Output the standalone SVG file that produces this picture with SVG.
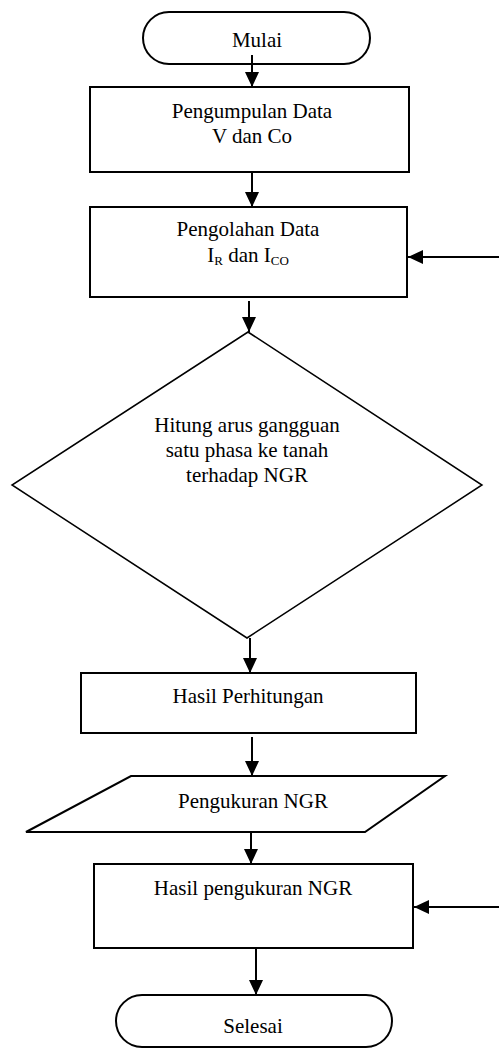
<svg xmlns="http://www.w3.org/2000/svg" width="499" height="1054" viewBox="0 0 499 1054">
<style>
.s{fill:#fff;stroke:#000;stroke-width:2}
.d{fill:#fff;stroke:#000;stroke-width:1.5}
.t{font-family:'Liberation Serif','DejaVu Serif',serif;font-size:21px;fill:#000;text-anchor:middle}
.sub{font-size:13px}
.c{stroke:#000;stroke-width:2;fill:none;marker-end:url(#ah)}
</style>
<defs>
<marker id="ah" markerUnits="userSpaceOnUse" markerWidth="16" markerHeight="14" refX="15" refY="7" orient="auto">
<path d="M0,0 L15,7 L0,14 z" fill="#000"/>
</marker>
</defs>
<rect width="499" height="1054" fill="#fff"/>
<g id="mulai">
<rect class="s" x="143" y="12" width="227" height="52" rx="26" ry="26"/>
<text class="t" x="257" y="47">Mulai</text>
</g>
<g id="pengumpulan">
<rect class="s" x="90" y="87" width="319" height="85"/>
<text class="t" x="252" y="118">Pengumpulan Data</text>
<text class="t" x="252" y="143">V dan Co</text>
</g>
<g id="pengolahan">
<rect class="s" x="90" y="207" width="317" height="90"/>
<text class="t" x="248" y="236">Pengolahan Data</text>
<text class="t" x="248" y="262">I<tspan class="sub" dy="3">R</tspan><tspan dy="-3"> dan I</tspan><tspan class="sub" dy="3">CO</tspan></text>
</g>
<g id="hitung">
<polygon class="d" points="248,332 482,485 247,638 12,485"/>
<text class="t" x="247" y="432">Hitung arus gangguan</text>
<text class="t" x="247" y="457">satu phasa ke tanah</text>
<text class="t" x="247" y="482">terhadap NGR</text>
</g>
<g id="hasil-perhitungan">
<rect class="s" x="81" y="673" width="335" height="60"/>
<text class="t" x="248" y="703">Hasil Perhitungan</text>
</g>
<g id="pengukuran">
<polygon class="s" points="131,776 445,776 365,832 26,832"/>
<text class="t" x="253" y="808">Pengukuran NGR</text>
</g>
<g id="hasil-pengukuran">
<rect class="s" x="94" y="864" width="319" height="84"/>
<text class="t" x="253" y="895">Hasil pengukuran NGR</text>
</g>
<g id="selesai">
<rect class="s" x="116" y="995" width="276" height="52" rx="26" ry="26"/>
<text class="t" x="253" y="1033">Selesai</text>
</g>
<g id="connectors">
<line class="c" x1="252" y1="55" x2="252" y2="87"/>
<line class="c" x1="252" y1="172" x2="252" y2="207"/>
<line class="c" x1="499" y1="257" x2="408" y2="257"/>
<line class="c" x1="249" y1="301" x2="249" y2="332"/>
<line class="c" x1="250" y1="638" x2="250" y2="673"/>
<line class="c" x1="252" y1="737" x2="252" y2="776"/>
<line class="c" x1="251" y1="832" x2="251" y2="864"/>
<line class="c" x1="499" y1="907" x2="414" y2="907"/>
<line class="c" x1="256" y1="948" x2="256" y2="995"/>
</g>
</svg>
